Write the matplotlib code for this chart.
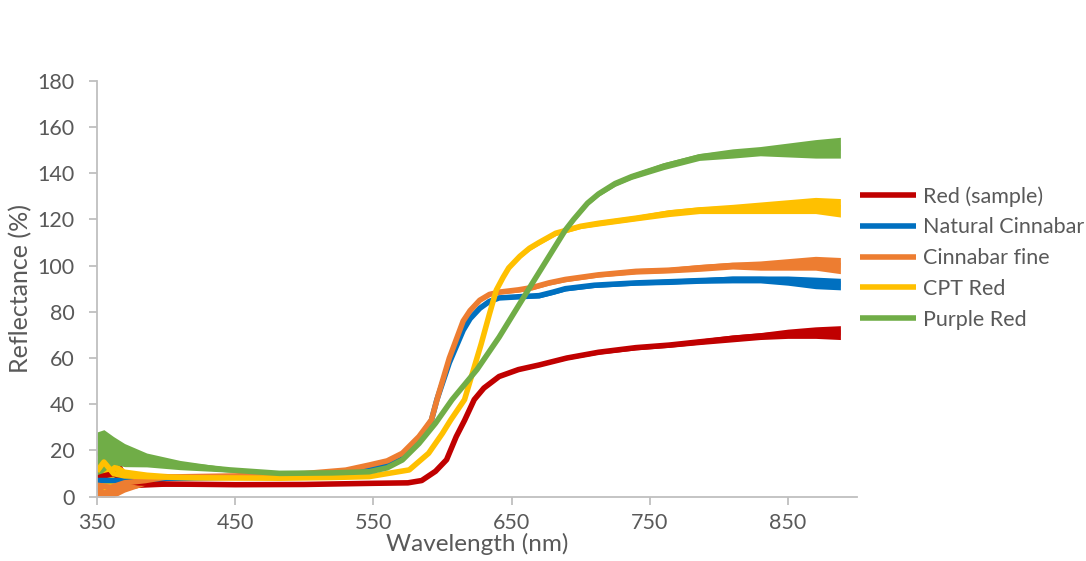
import matplotlib.pyplot as plt

plt.rcParams['font.family'] = ['Lato', 'DejaVu Sans']

# Red (sample)
red_wl = [350, 355, 362, 370, 380, 400, 450, 500, 550, 575, 585, 595, 603, 610, 616,
          623, 630, 641, 655, 670, 690, 713, 740, 764, 786, 810, 830, 850, 870, 888]
red_val = [8, 9, 10, 7, 6, 5.5, 5.2, 5.3, 5.8, 6, 7, 11, 16, 26, 33,
           42, 47, 52, 55, 57, 60, 62.5, 64.5, 65.6, 67, 68.5, 69.5, 70.5, 71, 71]
red_sp = [6, 8, 10, 4, 2, 1, 0.5, 0.5, 0.5, 0.5, 0.5, 0.5, 0.5, 0.5, 0.5,
          0.5, 0.5, 0.5, 0.5, 0.5, 0.7, 0.8, 1, 1, 1.2, 1.5, 1.5, 2, 2.5, 3]

# Natural Cinnabar
blue_wl = [350, 370, 400, 450, 500, 530, 550, 560, 571, 583, 592, 596, 605, 615, 620,
           627, 634, 641, 655, 670, 680, 689, 710, 740, 764, 786, 810, 830, 850, 870, 888]
blue_val = [7, 7, 8, 8.5, 9.5, 11, 13, 14.5, 18, 25, 33, 42, 58, 72, 77,
            81.5, 84.5, 86, 86.5, 87, 88.5, 90, 91.5, 92.5, 93, 93.5, 94, 94, 93.5, 92.5, 92]
blue_sp = [5, 3, 1, 0.5, 0.5, 0.5, 0.5, 0.5, 0.5, 0.5, 0.5, 0.5, 0.5, 0.5, 0.5,
           0.5, 0.5, 0.5, 0.8, 1, 1, 1, 1, 1, 1.2, 1.2, 1.5, 1.5, 2, 2.5, 2.5]

# Cinnabar fine
orange_wl = [350, 360, 370, 385, 400, 450, 500, 530, 547, 560, 571, 583, 592, 597, 605,
             615, 620, 627, 634, 641, 655, 665, 677, 689, 713, 740, 764, 786, 810, 830,
             850, 870, 888]
orange_val = [5, 4, 6, 7, 8.5, 9, 10, 11.5, 13.7, 15.5, 18.8, 26, 33.2, 44, 60,
              76, 80.5, 85, 87.5, 88.5, 89.5, 90.5, 92.5, 94, 96, 97.5, 98, 99, 100, 100,
              100.5, 101, 100]
orange_sp = [5, 5, 4, 2, 1, 0.5, 0.5, 0.5, 0.5, 0.5, 0.5, 0.5, 0.5, 0.5, 0.5,
             0.5, 0.5, 0.5, 0.5, 0.8, 1, 1, 1, 1, 1, 1.2, 1.2, 1.5, 1.5, 2,
             2.5, 3, 3.5]

# CPT Red
yellow_wl = [350, 355, 362, 370, 386, 420, 482, 520, 547, 576, 590, 600, 606, 616, 628,
             634, 639, 644, 648, 656, 663, 670, 682, 700, 713, 740, 764, 786, 810, 830,
             850, 870, 888]
yellow_val = [11, 15, 10, 9, 8.7, 8.2, 8, 8.3, 8.7, 11.6, 18.8, 27.4, 33.2, 42, 66,
              79, 89.4, 95, 99, 104, 107.5, 110, 114, 117, 118.3, 120.5, 122.7, 124, 124.5, 125,
              125.5, 126, 125]
yellow_sp = [5, 12, 5, 3, 2, 1, 0.5, 0.5, 0.5, 0.5, 0.5, 0.5, 0.5, 0.5, 0.5,
             0.5, 0.5, 0.5, 0.5, 0.8, 1, 1, 1, 1, 1.2, 1.2, 1.5, 1.5, 2, 2.5,
             3, 3.5, 4]

# Purple Red
green_wl = [350, 355, 362, 370, 386, 410, 446, 482, 520, 547, 560, 571, 583, 595, 607,
            625, 641, 665, 689, 695, 705, 713, 725, 737, 760, 786, 810, 830, 850, 870, 888]
green_val = [18, 20, 20, 18, 15.9, 13.7, 11.6, 10.1, 10.3, 10.8, 12.5, 15.9, 23, 31.8, 42,
             55, 69, 92.3, 115.4, 120, 127, 131, 135.5, 138.5, 143, 147, 148.5, 149.5, 150, 150.5, 151]
green_sp = [10, 9, 6, 5, 3, 2, 1, 0.5, 0.5, 0.5, 0.5, 0.5, 0.5, 0.5, 0.5,
            0.5, 0.5, 0.5, 1, 1, 1, 1, 1.2, 1.2, 1.5, 1.5, 2, 2, 3, 4, 4.5]

series = [
    ("Red (sample)", red_wl, red_val, red_sp, '#C00000'),
    ("Natural Cinnabar", blue_wl, blue_val, blue_sp, '#0070C0'),
    ("Cinnabar fine", orange_wl, orange_val, orange_sp, '#ED7D31'),
    ("CPT Red", yellow_wl, yellow_val, yellow_sp, '#FFC000'),
    ("Purple Red", green_wl, green_val, green_sp, '#70AD47'),
]

fig = plt.figure(figsize=(10.86, 5.61), dpi=100)
ax = fig.add_axes([0.0893, 0.1146, 0.6998, 0.7416])

# noise band plus the line itself, drawn in legend order
for name, wl, val, sp, col in series:
    lo = [v - s for v, s in zip(val, sp)]
    hi = [v + s for v, s in zip(val, sp)]
    ax.fill_between(wl, lo, hi, color=col, lw=0)
    ax.plot(wl, val, color=col, lw=4, label=name, solid_capstyle='butt')

ax.set_xlim(350, 900)
ax.set_ylim(0, 180)
ax.set_xticks(range(350, 900, 100))
ax.set_yticks(range(0, 181, 20))

for s in ['top', 'right']:
    ax.spines[s].set_visible(False)
for s in ['left', 'bottom']:
    ax.spines[s].set_color('#BFBFBF')
    ax.spines[s].set_linewidth(1.3)

ax.tick_params(axis='both', colors='#BFBFBF', labelcolor='#595959',
               labelsize=15.5, length=6, width=1.3)
ax.tick_params(axis='y', pad=10)
ax.tick_params(axis='x', pad=6)

ax.set_xlabel("Wavelength (nm)", fontsize=17.5, color='#595959', labelpad=0)
ax.set_ylabel("Reflectance (%)", fontsize=18, color='#595959', labelpad=4)

fig.legend(loc='upper left', bbox_to_anchor=(0.774, 0.703), frameon=False,
           fontsize=15.5, handlelength=2.6, handletextpad=0.35,
           labelspacing=0.5, labelcolor='#595959')

fig.savefig('out.png', dpi=100)
